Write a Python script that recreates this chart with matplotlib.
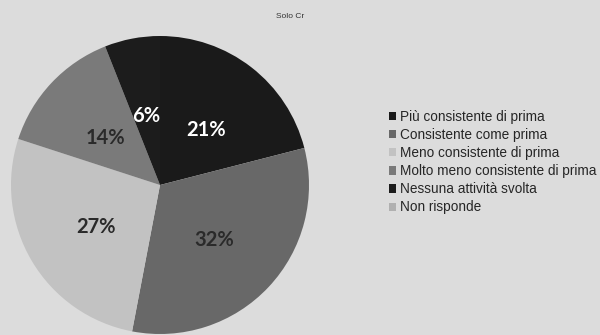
import matplotlib
matplotlib.use("Agg")
import matplotlib.pyplot as plt
from matplotlib.patches import Patch
import math

title = "Solo Cr"
categories = ["Più consistente di prima", "Consistente come prima", "Meno consistente di prima",
              "Molto meno consistente di prima", "Nessuna attività svolta", "Non risponde"]
values = [21, 32, 27, 14, 6, 0]
colors = ["#1a1a1a", "#686868", "#c2c2c2", "#7a7a7a", "#1c1c1c", "#b0b0b0"]
label_colors = ["white", "#2a2a2a", "#2a2a2a", "#2a2a2a", "white", "#2a2a2a"]

bg = "#dcdcdc"
fig = plt.figure(figsize=(6, 3.35), dpi=100, facecolor=bg)
W, H = 600, 335
cx, cy, r = 160, 185, 149
ax = fig.add_axes([(cx - r) / W, (H - cy - r) / H, 2 * r / W, 2 * r / H])
ax.set_facecolor(bg)

wedges, texts = ax.pie(values, colors=colors, startangle=90, counterclock=False,
                       radius=1, wedgeprops=dict(linewidth=0))
total = sum(values)
ang = 90.0
for v, lc in zip(values, label_colors):
    if v == 0:
        continue
    span = 360.0 * v / total
    mid = math.radians(ang - span / 2)
    ax.text(0.5 * math.cos(mid), 0.5 * math.sin(mid) - 0.025, f"{v}%", ha="center", va="center",
            fontsize=14.5, fontweight="bold", color=lc, family="Lato")
    ang -= span
ax.set_xlim(-1, 1)
ax.set_ylim(-1, 1)
ax.set_aspect("equal")
ax.axis("off")

fig.text(290 / W, 1 - 17 / H, title, ha="center", va="center", fontsize=6, color="#333333",
         family="Liberation Sans")

handles = [Patch(facecolor=c, edgecolor="none") for c in colors]
leg = fig.legend(handles, categories, loc="upper left", bbox_to_anchor=(389 / W, 1 - 110 / H),
                 frameon=False, handlelength=0.55, handleheight=0.55,
                 handletextpad=0.25, labelspacing=0.3, borderaxespad=0, borderpad=0,
                 prop=dict(family="Liberation Sans", size=9.8))
for t in leg.get_texts():
    t.set_color("#262626")

fig.savefig("out.png", dpi=100, facecolor=bg)
